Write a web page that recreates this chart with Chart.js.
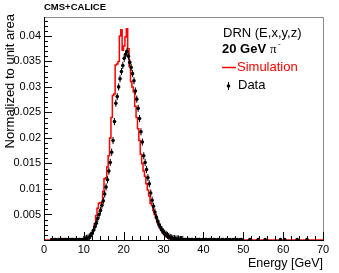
<!DOCTYPE html>
<html>
<head>
<meta charset="utf-8">
<script src="https://cdn.jsdelivr.net/npm/chart.js@4"></script>
<style>
html, body { margin: 0; padding: 0; background: #fff; }
</style>
</head>
<body>
<canvas id="drn" width="339" height="273"></canvas>
<script>
// 20 GeV pi- energy response, DRN (E,x,y,z): simulation histogram vs data points.
const binWidth = 0.35;      // GeV
const coreLow = 9.8;        // lower edge of first core bin
const leftTailLow = 1.4;
const rightTailLow = 35.0;

// core region 9.8 - 35 GeV (72 bins)
const simCore = [
  0, 0.0001, 0.0002, 0.0003, 0.0005, 0.0008, 0.0012, 0.0020, 0.0032, 0.0048,
  0.0062, 0.0072, 0.0073, 0.0074, 0.0095, 0.0120, 0.0122, 0.0143, 0.0165, 0.0200,
  0.0240, 0.0283, 0.0286, 0.0343, 0.0345, 0.0350, 0.0400, 0.0412, 0.0372, 0.0380,
  0.0398, 0.0414, 0.0375, 0.0340, 0.0310, 0.0300, 0.0290, 0.0262, 0.0240, 0.0218,
  0.0195, 0.0168, 0.0150, 0.0135, 0.0125, 0.0110, 0.0098, 0.0086, 0.0072, 0.0068,
  0.0058, 0.0050, 0.0042, 0.0034, 0.0028, 0.0022, 0.0018, 0.0014, 0.0011, 0.0008,
  0.0006, 0.0004, 0.0003, 0.0002, 0.0001, 0.0001, 0, 0, 0, 0,
  0, 0
];
const dataCore = [
  0.0001, 0.0002, 0.0003, 0.0004, 0.0006, 0.0009, 0.0013, 0.0019, 0.0026, 0.0033,
  0.0042, 0.0050, 0.0058, 0.0068, 0.0077, 0.0090, 0.0104, 0.0118, 0.0135, 0.0152,
  0.0172, 0.0195, 0.0232, 0.0268, 0.0281, 0.0300, 0.0316, 0.0330, 0.0342, 0.0356,
  0.0364, 0.0370, 0.0360, 0.0348, 0.0338, 0.0326, 0.0312, 0.0292, 0.0276, 0.0258,
  0.0238, 0.0212, 0.0192, 0.0165, 0.0152, 0.0138, 0.0122, 0.0110, 0.0092, 0.0078,
  0.0066, 0.0055, 0.0045, 0.0037, 0.0030, 0.0025, 0.0020, 0.0016, 0.0013, 0.0011,
  0.0009, 0.0007, 0.0005, 0.0004, 0.0003, 0.0003, 0.0002, 0.0002, 0.0002, 0.0001,
  0.0001, 0.0001
];
// sparse data tails, 1.4 - 9.8 GeV and 35 - 70 GeV
const dataLeftTail = [
  null, 0.0001, null, 0.0001, 0.0001, null, 0.0001, 0.0001, 0.0001, 0.0001,
  0.0001, 0.0001, 0.0001, 0.0001, 0.0001, 0.0001, 0.0001, 0.0001, 0.0001, 0.0001,
  0.0001, 0.0001, 0.0001, 0.0001
];
const dataRightTail = [
  0.0001, 0.0001, 0.0001, 0.0001, 0.0001, 0.0001, 0.0001, null, 0.0001, 0.0001,
  0.0001, 0.0001, null, 0.0001, 0.0001, 0.0001, 0.0001, null, 0.0001, 0.0001,
  null, 0.0001, 0.0001, null, 0.0001, 0.0001, null, 0.0001, 0.0001, null,
  0.0001, 0.0001, null, 0.0001, null, 0.0001, 0.0001, null, 0.0001, null,
  0.0001, 0.0001, null, null, null, null, null, 0.0001, null, null,
  null, null, null, 0.0001, null, null, null, null, 0.0001, null,
  null, null, null, null, null, null, null, null, null, 0.0001,
  null, null, 0.0001, null, null, null, null, null, null, null,
  null, 0.0001, null, null, null, null, null, null, 0.0001, null,
  null, null, null, null, null, null, null, null, null, null
];
const coreErr = 0.0007;
const tailErr = 0.0003;

const xTicks = [0, 10, 20, 30, 40, 50, 60, 70];
const yTicks = [0.005, 0.01, 0.015, 0.02, 0.025, 0.03, 0.035, 0.04];

function toPoints(values, low, err) {
  const pts = [];
  values.forEach((v, i) => {
    if (v === null) return;
    pts.push({ x: low + binWidth * (i + 0.5), y: v, err: err });
  });
  return pts;
}

const simPoints = [{ x: 0, y: 0 }].concat(toPoints(simCore, coreLow, 0), [{ x: 70, y: 0 }]);
const dataPoints = toPoints(dataLeftTail, leftTailLow, tailErr)
  .concat(toPoints(dataCore, coreLow, coreErr), toPoints(dataRightTail, rightTailLow, tailErr));

const FONT = "'Liberation Sans', Arial, sans-serif";

const errorBars = {
  id: "errorBars",
  afterDatasetsDraw(chart) {
    const ctx = chart.ctx;
    const y = chart.scales.y;
    const meta = chart.getDatasetMeta(0);
    ctx.save();
    ctx.strokeStyle = "#000";
    ctx.lineWidth = 1;
    meta.data.forEach((el, i) => {
      const d = chart.data.datasets[0].data[i];
      ctx.beginPath();
      ctx.moveTo(el.x, y.getPixelForValue(d.y + d.err));
      ctx.lineTo(el.x, y.getPixelForValue(Math.max(0, d.y - d.err)));
      ctx.stroke();
    });
    ctx.restore();
  }
};

const rootFrame = {
  id: "rootFrame",
  afterDraw(chart) {
    const { ctx, chartArea: a, scales: { x, y } } = chart;
    ctx.save();
    ctx.lineWidth = 1;
    ctx.strokeStyle = "#8c8c8c";
    ctx.beginPath();
    ctx.moveTo(a.left, a.top + 0.5);
    ctx.lineTo(a.right + 0.5, a.top + 0.5);
    ctx.lineTo(a.right + 0.5, a.bottom);
    ctx.stroke();

    ctx.strokeStyle = "#000";
    ctx.beginPath();
    ctx.moveTo(a.left + 0.5, a.top);
    ctx.lineTo(a.left + 0.5, a.bottom + 0.5);
    ctx.lineTo(a.right + 1, a.bottom + 0.5);
    // x ticks, minor every 2 GeV
    for (let k = 0; k <= 35; k++) {
      const px = Math.round(x.getPixelForValue(k * 2)) + 0.5;
      const len = k % 5 === 0 ? 8 : 4;
      ctx.moveTo(px, a.bottom);
      ctx.lineTo(px, a.bottom - len);
    }
    // y ticks, minor every 0.001
    for (let k = 0; k <= 43; k++) {
      const py = Math.round(y.getPixelForValue(k * 0.001)) + 0.5;
      const len = k % 5 === 0 ? 8 : 4;
      ctx.moveTo(a.left, py);
      ctx.lineTo(a.left + len, py);
    }
    ctx.stroke();
    ctx.restore();
  }
};

const labels = {
  id: "labels",
  afterDraw(chart) {
    const ctx = chart.ctx;
    ctx.save();
    ctx.fillStyle = "#000";
    ctx.textBaseline = "middle";

    ctx.font = "bold 9.5px " + FONT;
    ctx.textAlign = "left";
    ctx.fillText("CMS+CALICE", 44, 7);

    ctx.font = "12.5px " + FONT;
    ctx.textAlign = "right";
    ctx.fillText("Energy [GeV]", 323, 264);

    ctx.save();
    ctx.translate(10, 14);
    ctx.rotate(-Math.PI / 2);
    ctx.font = "13px " + FONT;
    ctx.textAlign = "right";
    ctx.fillText("Normalized to unit area", 0, 0);
    ctx.restore();

    // legend block
    ctx.textAlign = "left";
    ctx.font = "13px " + FONT;
    ctx.fillText("DRN (E,x,y,z)", 223, 33);

    ctx.font = "bold 13px " + FONT;
    ctx.fillText("20 GeV", 222, 49);
    const w = ctx.measureText("20 GeV").width;
    ctx.font = "13px 'Liberation Serif', serif";
    ctx.fillText("\u03c0", 222 + w + 4, 50);
    ctx.font = "8px " + FONT;
    ctx.fillText("-", 222 + w + 12, 44);

    ctx.strokeStyle = "#ff0000";
    ctx.lineWidth = 1.5;
    ctx.beginPath();
    ctx.moveTo(222, 67.5);
    ctx.lineTo(236, 67.5);
    ctx.stroke();
    ctx.fillStyle = "#ff0000";
    ctx.font = "13px " + FONT;
    ctx.fillText("Simulation", 237, 67);

    ctx.fillStyle = "#000";
    ctx.strokeStyle = "#000";
    ctx.lineWidth = 1;
    ctx.beginPath();
    ctx.moveTo(228.5, 82);
    ctx.lineTo(228.5, 90);
    ctx.stroke();
    ctx.beginPath();
    ctx.arc(228.5, 86, 1.8, 0, Math.PI * 2);
    ctx.fill();
    ctx.fillText("Data", 238, 85);
    ctx.restore();
  }
};

new Chart(document.getElementById("drn"), {
  type: "line",
  data: {
    datasets: [
      {
        label: "Data",
        data: dataPoints,
        showLine: false,
        pointRadius: 1.8,
        pointBorderWidth: 0,
        pointBackgroundColor: "#000",
        pointBorderColor: "#000",
      },
      {
        label: "Simulation",
        data: simPoints,
        stepped: "middle",
        borderColor: "#ff0000",
        borderWidth: 1.5,
        pointRadius: 0,
        fill: false,
      },
    ],
  },
  options: {
    responsive: false,
    animation: false,
    devicePixelRatio: 1,
    layout: { padding: { left: 0, right: 16, top: 17, bottom: 0 } },
    plugins: { legend: { display: false }, tooltip: { enabled: false } },
    scales: {
      x: {
        type: "linear",
        min: 0,
        max: 70,
        afterFit: (s) => { s.height = 33; },
        afterBuildTicks: (s) => { s.ticks = xTicks.map((v) => ({ value: v })); },
        grid: { display: false, drawTicks: false },
        border: { display: false },
        ticks: {
          padding: 3,
          maxRotation: 0,
          autoSkip: false,
          color: "#000",
          font: { family: FONT, size: 11 },
          callback: (v) => String(v),
        },
      },
      y: {
        type: "linear",
        min: 0,
        max: 0.0437,
        afterFit: (s) => { s.width = 44; },
        afterBuildTicks: (s) => { s.ticks = yTicks.map((v) => ({ value: v })); },
        grid: { display: false, drawTicks: false },
        border: { display: false },
        ticks: {
          padding: 3,
          autoSkip: false,
          color: "#000",
          font: { family: FONT, size: 11 },
          callback: (v) => String(+v.toFixed(3)),
        },
      },
    },
  },
  plugins: [errorBars, rootFrame, labels],
});
</script>
</body>
</html>
